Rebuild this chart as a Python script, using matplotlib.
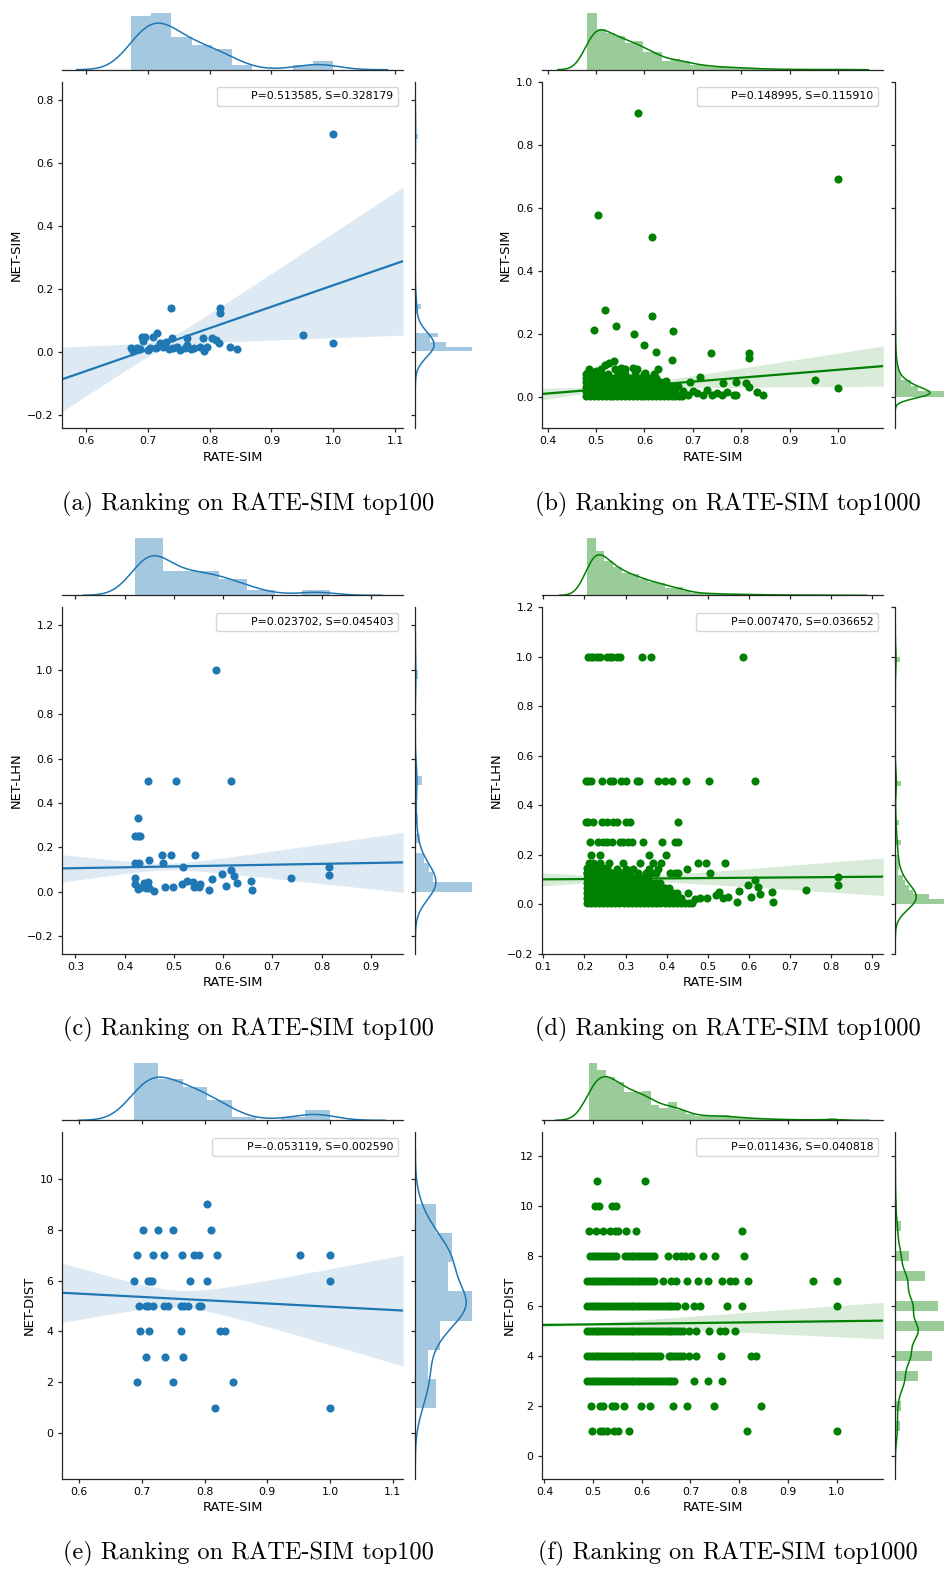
import numpy as np
import matplotlib
matplotlib.use("Agg")
import matplotlib.pyplot as plt
from matplotlib.lines import Line2D

W, H = 945, 1569
BLUE = "#1f77b4"
GREEN = "#008000"

# ---------------- (a) RATE-SIM top100 vs NET-SIM ----------------
a_x = [1.0, 0.737, 0.816, 0.816, 0.951, 1.0, 0.833, 0.845, 0.815, 0.81, 0.804, 0.789,
       0.764, 0.715, 0.709, 0.69, 0.696, 0.693, 0.739, 0.673, 0.677, 0.682, 0.688, 0.725,
       0.72, 0.73, 0.703, 0.714, 0.741, 0.752, 0.763, 0.774, 0.784, 0.791, 0.795, 0.747,
       0.76, 0.70, 0.735, 0.77]
a_y = [0.693, 0.142, 0.141, 0.125, 0.055, 0.029, 0.017, 0.010, 0.031, 0.039, 0.047, 0.047,
       0.047, 0.062, 0.050, 0.050, 0.050, 0.037, 0.044, 0.013, 0.005, 0.013, 0.010, 0.018,
       0.031, 0.034, 0.013, 0.013, 0.013, 0.007, 0.023, 0.013, 0.018, 0.005, 0.018, 0.018,
       0.013, 0.008, 0.010, 0.010]
a_fit = [-0.468, 0.681]          # intercept, slope
a_ci = [0.728, 0.015, 0.61]      # centre, narrowest half width, spread
a_top = [11.4, 12.1, 7, 5.3, 4.4, 1, 0, 0, 1, 1.9]
a_top_bins = [0.673, 0.0327]
a_side = [57, 30.7, 15, 22.7, 0, 0, 0, 0, 2.3, 5.7] + [0] * 35 + [2.3]
a_side_bins = [0.003, 0.015]

# ---------------- (b) RATE-SIM top1000 vs NET-SIM ----------------
b_x = [0.586, 0.999, 0.504, 0.615, 0.519, 0.615, 0.495, 0.542, 0.578, 0.659, 0.599, 0.623,
       0.737, 0.816, 0.816, 0.656, 0.952, 0.999, 0.833, 0.845, 0.627, 0.538, 0.526, 0.518,
       0.576, 0.551, 0.481, 0.50, 0.601, 0.715, 0.694, 0.79, 0.81, 0.816, 0.763, 0.749,
       0.79, 0.77, 0.729, 0.708, 0.678,
       0.69, 0.72, 0.74, 0.76, 0.785, 0.68, 0.70, 0.67, 0.645, 0.51, 0.525, 0.545, 0.56,
       0.58, 0.60, 0.62, 0.485, 0.51, 0.54, 0.56, 0.585]
b_y = [0.900, 0.691, 0.577, 0.508, 0.275, 0.256, 0.212, 0.226, 0.199, 0.209, 0.164, 0.144,
       0.141, 0.141, 0.124, 0.117, 0.055, 0.027, 0.017, 0.007, 0.088, 0.114, 0.107, 0.101,
       0.091, 0.091, 0.077, 0.082, 0.077, 0.062, 0.049, 0.049, 0.043, 0.033, 0.043, 0.012,
       0.006, 0.017, 0.022, 0.012, 0.003,
       0.005, 0.005, 0.005, 0.005, 0.005, 0.02, 0.02, 0.035, 0.05, 0.074, 0.074, 0.074, 0.074,
       0.074, 0.074, 0.074, 0.088, 0.088, 0.088, 0.088, 0.088]
# dense cloud: x positions shared by every row, each row filled up to its end
b_grid = [0.48, 0.488, 0.496, 0.504, 0.512, 0.52, 0.528, 0.536, 0.544, 0.552, 0.56, 0.568,
          0.576, 0.584, 0.592, 0.60, 0.608, 0.616, 0.624, 0.632, 0.64, 0.648, 0.656, 0.664,
          0.672]
b_blob_y = [0.004, 0.018, 0.032, 0.046, 0.06, 0.074]
b_blob_end = [0.672, 0.664, 0.656, 0.64, 0.624, 0.50]
b_fit = [-0.0392, 0.1255]
b_ci = [0.54, 0.006, 0.115]
b_top = [56.3, 40, 35.7, 33, 26.3, 28, 17.3, 17.3, 8.3, 11, 8.3, 5, 4.7, 3, 2.7, 2.3,
         2, 1.3, 1, 0.7, 0.5, 0.3, 0.3, 0.3, 0, 0, 0.7]
b_top_bins = [0.482, 0.01924]
b_side = ([540, 210, 150, 55, 35, 22, 12, 8, 6, 4, 3, 4, 2, 1, 2, 1] + [0] * 12 + [1]
          + [0] * 3 + [1] + [0] * 5 + [1] + [0] * 10 + [1])
b_side_bins = [0.0, 0.018]

# ---------------- (c) RATE-SIM top100 vs NET-LHN ----------------
c_x = [0.586, 0.447, 0.504, 0.615, 0.427, 0.42, 0.426, 0.431, 0.475, 0.495, 0.542, 0.45,
       0.421, 0.43, 0.478, 0.518, 0.615, 0.816, 0.816, 0.598, 0.622, 0.737, 0.42, 0.421,
       0.435, 0.428, 0.439, 0.447, 0.443, 0.46, 0.481, 0.498, 0.517, 0.527, 0.538, 0.54,
       0.552, 0.551, 0.571, 0.577, 0.605, 0.628, 0.657, 0.658, 0.45]
c_y = [1.0, 0.5, 0.5, 0.5, 0.333, 0.25, 0.25, 0.25, 0.165, 0.165, 0.165, 0.143,
       0.128, 0.128, 0.128, 0.113, 0.1, 0.11, 0.075, 0.078, 0.072, 0.06, 0.063, 0.035,
       0.023, 0.012, 0.038, 0.042, 0.015, 0.003, 0.023, 0.021, 0.035, 0.048, 0.045, 0.02,
       0.035, 0.02, 0.008, 0.056, 0.027, 0.038, 0.047, 0.008, 0.015]
c_fit = [0.0944, 0.039]
c_ci = [0.487, 0.015, 0.28]
c_top = [57, 24, 24, 16, 5, 0, 5]
c_top_bins = [0.421, 0.0567]
c_side = [57, 18, 14, 9, 0, 4.3, 0, 2.3, 0, 0, 0, 6.7] + [0] * 10 + [2.3]
c_side_bins = [0.0, 0.0435]

# ---------------- (d) RATE-SIM top1000 vs NET-LHN ----------------
d_x = [0.519, 0.528, 0.538, 0.55, 0.57, 0.576, 0.598, 0.606, 0.615, 0.623, 0.628, 0.657,
       0.658, 0.738, 0.816, 0.816, 0.481, 0.499, 0.451, 0.461, 0.47]
d_y = [0.038, 0.049, 0.024, 0.031, 0.011, 0.055, 0.078, 0.031, 0.1, 0.072, 0.04, 0.049,
       0.008, 0.06, 0.111, 0.077, 0.025, 0.025, 0.045, 0.004, 0.02]
d_level_y = [1.0, 0.5, 0.333, 0.25, 0.2, 0.167, 0.143, 0.125]
d_level_x = [
    [0.209, 0.215, 0.222, 0.23, 0.238, 0.254, 0.262, 0.266, 0.278, 0.286, 0.341, 0.362, 0.586],
    [0.204, 0.209, 0.217, 0.242, 0.262, 0.27, 0.29, 0.302, 0.327, 0.333, 0.378, 0.396, 0.412,
     0.447, 0.504, 0.615],
    [0.203, 0.209, 0.222, 0.243, 0.254, 0.27, 0.278, 0.301, 0.311, 0.427],
    [0.213, 0.234, 0.244, 0.256, 0.266, 0.286, 0.294, 0.307, 0.315, 0.343, 0.388, 0.42, 0.428],
    [0.215, 0.238, 0.358, 0.398],
    [0.21, 0.222, 0.238, 0.26, 0.293, 0.335, 0.366, 0.386, 0.477, 0.495, 0.543],
    [0.21, 0.225, 0.25, 0.28, 0.30, 0.318, 0.356, 0.378, 0.45],
    [0.205, 0.22, 0.235, 0.265, 0.29, 0.31, 0.33, 0.35, 0.362, 0.375, 0.407, 0.42, 0.428, 0.505],
]
d_grid = [0.205, 0.215, 0.225, 0.235, 0.245, 0.255, 0.265, 0.275, 0.285, 0.295, 0.305,
          0.315, 0.325, 0.335, 0.345, 0.355, 0.365, 0.375, 0.385, 0.395, 0.405, 0.415,
          0.425, 0.435, 0.445, 0.455]
d_blob_y = [0.005, 0.025, 0.045, 0.065, 0.085, 0.105, 0.125, 0.145]
d_blob_end = [0.455, 0.435, 0.425, 0.405, 0.385, 0.355, 0.305, 0.255]
d_fit = [0.0997, 0.0132]
d_ci = [0.303, 0.01, 0.1207]
d_top = [56.7, 44.3, 34.3, 27.7, 21.7, 21, 16, 13.3, 12.7, 7.7, 8.3, 4, 2.3, 2, 1.7, 1.3,
         1.2, 1, 0.8, 0.7, 0.5, 0.5, 0.3, 0.3, 0.3, 0.2, 0.2, 0, 0.4]
d_top_bins = [0.2063, 0.02115]
d_side = ([57, 34, 17.7, 14, 9.3, 7.7, 3, 4, 4, 3.3, 1, 1, 6, 0, 0, 0, 3.3] + [0] * 7
          + [6] + [0] * 24 + [4.3])
d_side_bins = [0.0, 0.02]

# ---------------- (e) RATE-SIM top100 vs NET-DIST ----------------
e_level_y = [9, 8, 7, 6, 5, 4, 3, 2, 1]
e_level_x = [
    [0.804],
    [0.702, 0.726, 0.749, 0.81],
    [0.692, 0.717, 0.736, 0.764, 0.783, 0.791, 0.819, 0.952, 1.0],
    [0.688, 0.709, 0.713, 0.716, 0.777, 0.804, 1.0],
    [0.696, 0.706, 0.71, 0.717, 0.736, 0.741, 0.763, 0.767, 0.774, 0.791, 0.794],
    [0.697, 0.712, 0.762, 0.824, 0.833],
    [0.707, 0.737, 0.765],
    [0.692, 0.749, 0.846],
    [0.817, 1.0],
]
e_fit = [6.254, -1.284]
e_ci = [0.759, 0.33, 6.03]
e_top = [56, 40, 32.7, 20, 3, 0, 3, 10]
e_top_bins = [0.687, 0.0391]
e_side_vals = [1, 2, 3, 4, 5, 6, 7, 8, 9]
e_side = [3, 7, 6, 12, 28, 16, 18, 8, 2]
e_side_bins = [1, 9, 7]

# ---------------- (f) RATE-SIM top1000 vs NET-DIST ----------------
f_level_y = [11, 10, 9, 8, 7, 6, 5, 4, 3, 2, 1]
f_level_x = [
    [0.509, 0.606],
    [0.503, 0.513, 0.538, 0.547],
    [0.492, 0.507, 0.52, 0.535, 0.544, 0.552, 0.567, 0.588, 0.805],
    [0.654, 0.67, 0.68, 0.688, 0.702, 0.726, 0.75, 0.81],
    [0.643, 0.661, 0.671, 0.692, 0.716, 0.736, 0.764, 0.782, 0.791, 0.818, 0.952, 1.0],
    [0.688, 0.707, 0.719, 0.776, 0.805, 1.0],
    [0.697, 0.712, 0.738, 0.76, 0.77, 0.792],
    [0.697, 0.712, 0.762, 0.825, 0.834],
    [0.708, 0.737, 0.765],
    [0.495, 0.514, 0.52, 0.539, 0.544, 0.564, 0.598, 0.617, 0.665, 0.692, 0.749, 0.845],
    [0.498, 0.514, 0.521, 0.528, 0.543, 0.552, 0.574, 0.816, 1.0],
]
# solid runs of overlapping dots along a level
f_grid = [0.487, 0.493, 0.499, 0.505, 0.511, 0.517, 0.523, 0.529, 0.535, 0.541, 0.547,
          0.553, 0.559, 0.565, 0.571, 0.577, 0.583, 0.589, 0.595, 0.601, 0.607, 0.613,
          0.619, 0.625, 0.631, 0.637, 0.643, 0.649, 0.655, 0.661, 0.667, 0.673, 0.679, 0.685]
f_run_y = [8, 8, 7, 6, 5, 4, 4, 3]
f_run_lo = [0.49, 0.565, 0.487, 0.487, 0.487, 0.487, 0.65, 0.487]
f_run_hi = [0.55, 0.627, 0.63, 0.676, 0.686, 0.638, 0.686, 0.672]
f_fit = [5.137, 0.247]
f_ci = [0.47, 0.03, 1.17]
f_top = [56, 49, 42.3, 37.7, 27.3, 27.3, 29, 15, 11.7, 18, 10, 5.7, 4.3, 4.3, 4, 5, 3,
         2.3, 2, 1.5, 1.2, 1, 0.7, 0.5, 0.5, 0.3, 0.3, 2]
f_top_bins = [0.4908, 0.01819]
f_side_vals = [1, 2, 3, 4, 5, 6, 7, 8, 9, 10, 11]
f_side = [23, 26, 102, 167, 257, 193, 135, 62, 26, 7, 2]
f_side_bins = [1, 11, 25]

stats = ["P=0.513585, S=0.328179", "P=0.148995, S=0.115910",
         "P=0.023702, S=0.045403", "P=0.007470, S=0.036652",
         "P=-0.053119, S=0.002590", "P=0.011436, S=0.040818"]
captions = ["(a) Ranking on RATE-SIM top100", "(b) Ranking on RATE-SIM top1000",
            "(c) Ranking on RATE-SIM top100", "(d) Ranking on RATE-SIM top1000",
            "(e) Ranking on RATE-SIM top100", "(f) Ranking on RATE-SIM top1000"]


def rows(level_y, level_x):
    xs, ys = [], []
    for yv, row in zip(level_y, level_x):
        xs += row
        ys += [yv] * len(row)
    return xs, ys


def runs(grid, level_y, lo, hi):
    xs, ys = [], []
    for yv, a, b in zip(level_y, lo, hi):
        sel = [g for g in grid if a - 1e-9 <= g <= b + 1e-9]
        xs += sel
        ys += [yv] * len(sel)
    return xs, ys


def binned(start, width, heights):
    h = np.asarray(heights, float)
    edges = start + width * np.arange(len(h) + 1)
    return edges, (edges[:-1] + edges[1:]) / 2, h, width


def discrete(vals, counts, spec):
    lo, hi, nb = spec
    return np.linspace(lo, hi, nb + 1), np.asarray(vals, float), np.asarray(counts, float), 0.0


def kde(centres, weights, spread, n):
    w = weights / weights.sum()
    mu = np.sum(w * centres)
    sd = np.sqrt(np.sum(w * (centres - mu) ** 2) + spread ** 2 / 12)
    bw = sd * n ** -0.2
    sig = np.sqrt(bw ** 2 + spread ** 2 / 12)
    used = centres[weights > 0]
    grid = np.linspace(used.min() - spread / 2 - 3 * bw, used.max() + spread / 2 + 3 * bw, 400)
    dens = (w[:, None] * np.exp(-0.5 * ((grid[None, :] - centres[:, None]) / sig) ** 2)).sum(0)
    return grid, dens / (sig * np.sqrt(2 * np.pi))


fig = plt.figure(figsize=(W / 100, H / 100), dpi=100)

MAIN_W, MAIN_H = 341.6, 346.6
GAP, MARG = 12, 60
LEFTS = [61.7, 541.7]
TOPS = [81.7, 607.3, 1132.3]
CAP_X = [248.5, 728]
CAP_Y = [504, 1029, 1553]
INK = "0.15"


def add(left, top, w, h):
    return fig.add_axes([left / W, 1 - (top + h) / H, w / W, h / H])


def style_ticks(ax):
    ax.tick_params(direction="out", length=3, width=0.9, pad=2.9, labelsize=7.8,
                   colors=INK, labelcolor="black")
    for s in ax.spines.values():
        s.set_linewidth(0.9)
        s.set_color(INK)


def panel(i, x, y, color, xlim, ylim, xticks, yticks, fit, ci, topm, sidem, n, ylabel):
    left, top = LEFTS[i % 2], TOPS[i // 2]
    ax = add(left, top, MAIN_W, MAIN_H)
    mx = add(left, top - GAP - MARG, MAIN_W, MARG)
    my = add(left + MAIN_W + GAP, top, MARG, MAIN_H)

    ax.scatter(x, y, s=34, color=color, linewidths=0)
    gx = np.linspace(xlim[0], xlim[1], 300)
    line = fit[0] + fit[1] * gx
    half = np.sqrt(ci[1] ** 2 + (ci[2] * (gx - ci[0])) ** 2)
    ax.fill_between(gx, line - half, line + half, color=color, alpha=0.15, lw=0)
    ax.plot(gx, line, color=color, lw=1.6)
    ax.set_xlim(xlim)
    ax.set_ylim(ylim)
    ax.set_xticks(xticks)
    ax.set_yticks(yticks)
    ax.spines["top"].set_visible(False)
    ax.spines["right"].set_visible(False)
    style_ticks(ax)
    ax.set_xlabel("RATE-SIM", fontsize=9.4, color="black", labelpad=3)
    ax.set_ylabel(ylabel, fontsize=9.4, color="black", labelpad=3)
    ax.legend([Line2D([], [], lw=0)], [stats[i]], loc="upper right", fontsize=7.8,
              borderaxespad=0.5)

    # top marginal
    edges, cen, h, sp = topm
    dens = mx.hist(cen, bins=edges, weights=h, density=True, color=color, alpha=0.4)[0]
    gx, gd = kde(cen, h, sp, n)
    mx.plot(gx, gd, color=color, lw=1.1)
    mx.set_xlim(xlim)
    mx.set_ylim(0, 1.05 * max(dens.max(), gd.max()))
    mx.set_xticks(xticks)
    mx.set_yticks([])
    for s in ["top", "left", "right"]:
        mx.spines[s].set_visible(False)
    style_ticks(mx)
    mx.tick_params(labelbottom=False)
    mx.patch.set_alpha(0)

    # side marginal
    edges, cen, h, sp = sidem
    dens = my.hist(cen, bins=edges, weights=h, density=True, color=color, alpha=0.4,
                   orientation="horizontal")[0]
    gy, gd = kde(cen, h, sp, n)
    my.plot(gd, gy, color=color, lw=1.1)
    my.set_ylim(ylim)
    my.set_xlim(0, 1.05 * max(dens.max(), gd.max()))
    my.set_yticks(yticks)
    my.set_xticks([])
    for s in ["top", "bottom", "right"]:
        my.spines[s].set_visible(False)
    style_ticks(my)
    my.tick_params(labelleft=False)
    my.patch.set_alpha(0)


bbx, bby = runs(b_grid, b_blob_y, [0.48] * len(b_blob_y), b_blob_end)
dlx, dly = rows(d_level_y, d_level_x)
dbx, dby = runs(d_grid, d_blob_y, [0.205] * len(d_blob_y), d_blob_end)
ex, ey = rows(e_level_y, e_level_x)
fsx, fsy = rows(f_level_y, f_level_x)
frx, fry = runs(f_grid, f_run_y, f_run_lo, f_run_hi)

panel(0, a_x, a_y, BLUE, (0.561, 1.113), (-0.241, 0.859),
      [0.6, 0.7, 0.8, 0.9, 1.0, 1.1], [-0.2, 0.0, 0.2, 0.4, 0.6, 0.8],
      a_fit, a_ci, binned(*a_top_bins, a_top), binned(*a_side_bins, a_side), 100, "NET-SIM")
panel(1, b_x + bbx, b_y + bby, GREEN, (0.388, 1.093), (-0.0994, 1.0),
      [0.4, 0.5, 0.6, 0.7, 0.8, 0.9, 1.0], [0.0, 0.2, 0.4, 0.6, 0.8, 1.0],
      b_fit, b_ci, binned(*b_top_bins, b_top), binned(*b_side_bins, b_side), 1000, "NET-SIM")
panel(2, c_x, c_y, BLUE, (0.272, 0.966), (-0.28, 1.281),
      [0.3, 0.4, 0.5, 0.6, 0.7, 0.8, 0.9], [-0.2, 0.0, 0.2, 0.4, 0.6, 0.8, 1.0, 1.2],
      c_fit, c_ci, binned(*c_top_bins, c_top), binned(*c_side_bins, c_side), 100, "NET-LHN")
panel(3, d_x + dlx + dbx, d_y + dly + dby, GREEN, (0.096, 0.927), (-0.2, 1.2),
      [0.1, 0.2, 0.3, 0.4, 0.5, 0.6, 0.7, 0.8, 0.9], [-0.2, 0.0, 0.2, 0.4, 0.6, 0.8, 1.0, 1.2],
      d_fit, d_ci, binned(*d_top_bins, d_top), binned(*d_side_bins, d_side), 1000, "NET-LHN")
panel(4, ex, ey, BLUE, (0.572, 1.117), (-1.79, 11.82),
      [0.6, 0.7, 0.8, 0.9, 1.0, 1.1], [0, 2, 4, 6, 8, 10],
      e_fit, e_ci, binned(*e_top_bins, e_top), discrete(e_side_vals, e_side, e_side_bins),
      100, "NET-DIST")
panel(5, fsx + frx, fsy + fry, GREEN, (0.3945, 1.096), (-0.93, 12.95),
      [0.4, 0.5, 0.6, 0.7, 0.8, 0.9, 1.0], [0, 2, 4, 6, 8, 10, 12],
      f_fit, f_ci, binned(*f_top_bins, f_top), discrete(f_side_vals, f_side, f_side_bins),
      1000, "NET-DIST")

for i, cap in enumerate(captions):
    fig.text(CAP_X[i % 2] / W, 1 - CAP_Y[i // 2] / H, cap, ha="center", va="center",
             fontsize=17.5, family="cmr10")

fig.savefig("out.png", dpi=100)
